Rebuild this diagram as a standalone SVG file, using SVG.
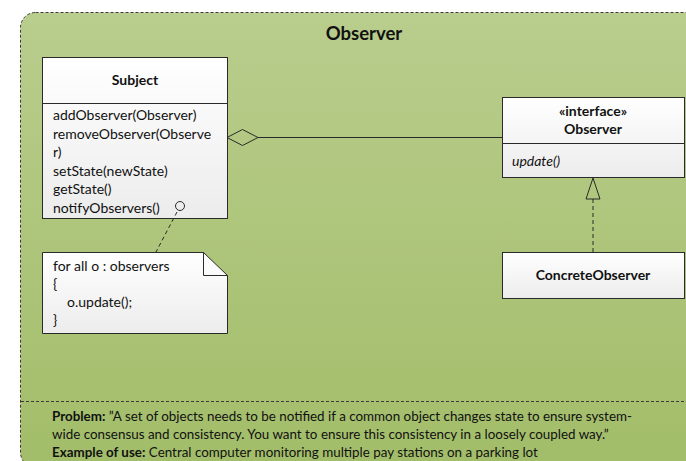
<svg xmlns="http://www.w3.org/2000/svg" width="686" height="461" viewBox="0 0 686 461">
  <style>
    text { font-family: Lato, "Open Sans", "Liberation Sans", sans-serif; fill: #111; font-size: 14px; }
    .b { font-weight: bold; }
    .i { font-style: italic; }
    .mid { text-anchor: middle; }
    .desc { font-size: 13.4px; }
    .box { fill: url(#boxFill); stroke: #2a2a2a; stroke-width: 1; }
    .sep { stroke: #2a2a2a; stroke-width: 1; }
    .line { fill: none; stroke: #2a2a2a; stroke-width: 1; }
    .dash { fill: none; stroke: #2a2a2a; stroke-width: 1; stroke-dasharray: 4 3; }
  </style>
  <defs>
    <linearGradient id="frameFill" x1="0" y1="0" x2="0" y2="1">
      <stop offset="0" stop-color="#b9cd8d"/>
      <stop offset="1" stop-color="#a2bd69"/>
    </linearGradient>
    <linearGradient id="boxFill" x1="0" y1="0" x2="0" y2="1">
      <stop offset="0" stop-color="#ffffff"/>
      <stop offset="1" stop-color="#ececec"/>
    </linearGradient>
  </defs>

  <rect width="686" height="461" fill="#ffffff"/>

  <!-- pattern frame -->
  <g id="frame">
    <rect x="20.5" y="12.5" width="700" height="455" rx="15" ry="15" fill="url(#frameFill)" stroke="#3a3a3a" stroke-width="1" stroke-dasharray="3 2"/>
    <text x="364" y="40" class="b mid" style="font-size:18.5px">Observer</text>
    <line x1="21" y1="401.5" x2="686" y2="401.5" stroke="#3a3a3a" stroke-width="1" stroke-dasharray="3 2"/>
    <text x="52" y="421" class="desc"><tspan class="b">Problem:</tspan> ”A set of objects needs to be notified if a common object changes state to ensure system-</text>
    <text x="52" y="439" class="desc">wide consensus and consistency. You want to ensure this consistency in a loosely coupled way.”</text>
    <text x="52" y="457" class="desc"><tspan class="b">Example of use:</tspan> Central computer monitoring multiple pay stations on a parking lot</text>
  </g>

  <g id="subject">
    <rect class="box" x="42.5" y="57.5" width="185" height="161"/>
    <line class="sep" x1="42.5" y1="103.5" x2="227.5" y2="103.5"/>
    <text x="135" y="85" class="b mid">Subject</text>
    <text x="53" y="120">addObserver(Observer)</text>
    <text x="53" y="138.5">removeObserver(Observe</text>
    <text x="53" y="157">r)</text>
    <text x="53" y="175.5">setState(newState)</text>
    <text x="53" y="194">getState()</text>
    <text x="53" y="212.5">notifyObservers()</text>
  </g>

  <g id="note">
    <path class="box" d="M42.5,252.5 H203.5 L227.5,275.5 V333.5 H42.5 Z"/>
    <path class="line" d="M203.5,252.5 V275.5 H227.5"/>
    <text x="53" y="271">for all o : observers</text>
    <text x="53" y="289">{</text>
    <text x="67" y="307">o.update();</text>
    <text x="53" y="325">}</text>
  </g>

  <g id="observer">
    <rect class="box" x="502.5" y="97.5" width="182" height="80"/>
    <line class="sep" x1="502.5" y1="143.5" x2="684.5" y2="143.5"/>
    <text x="593" y="116" class="b mid">«interface»</text>
    <text x="593" y="133.5" class="b mid">Observer</text>
    <text x="512" y="166" class="i">update()</text>
  </g>

  <g id="concreteObserver">
    <rect class="box" x="502.5" y="252.5" width="182" height="46"/>
    <text x="593" y="280" class="b mid">ConcreteObserver</text>
  </g>

  <!-- connectors -->
  <g id="connectors">
    <polygon points="227,137.5 242.5,129.5 258,137.5 242.5,145.5" fill="none" stroke="#2a2a2a" stroke-width="1"/>
    <line class="line" x1="258" y1="137.5" x2="502" y2="137.5"/>
    <polygon points="593,178 586,199 600,199" fill="none" stroke="#2a2a2a" stroke-width="1"/>
    <line class="dash" x1="593" y1="199" x2="593" y2="252"/>
    <line class="dash" x1="177" y1="212" x2="156" y2="252"/>
    <circle cx="180" cy="206" r="4.5" fill="none" stroke="#2a2a2a" stroke-width="1"/>
  </g>
</svg>
